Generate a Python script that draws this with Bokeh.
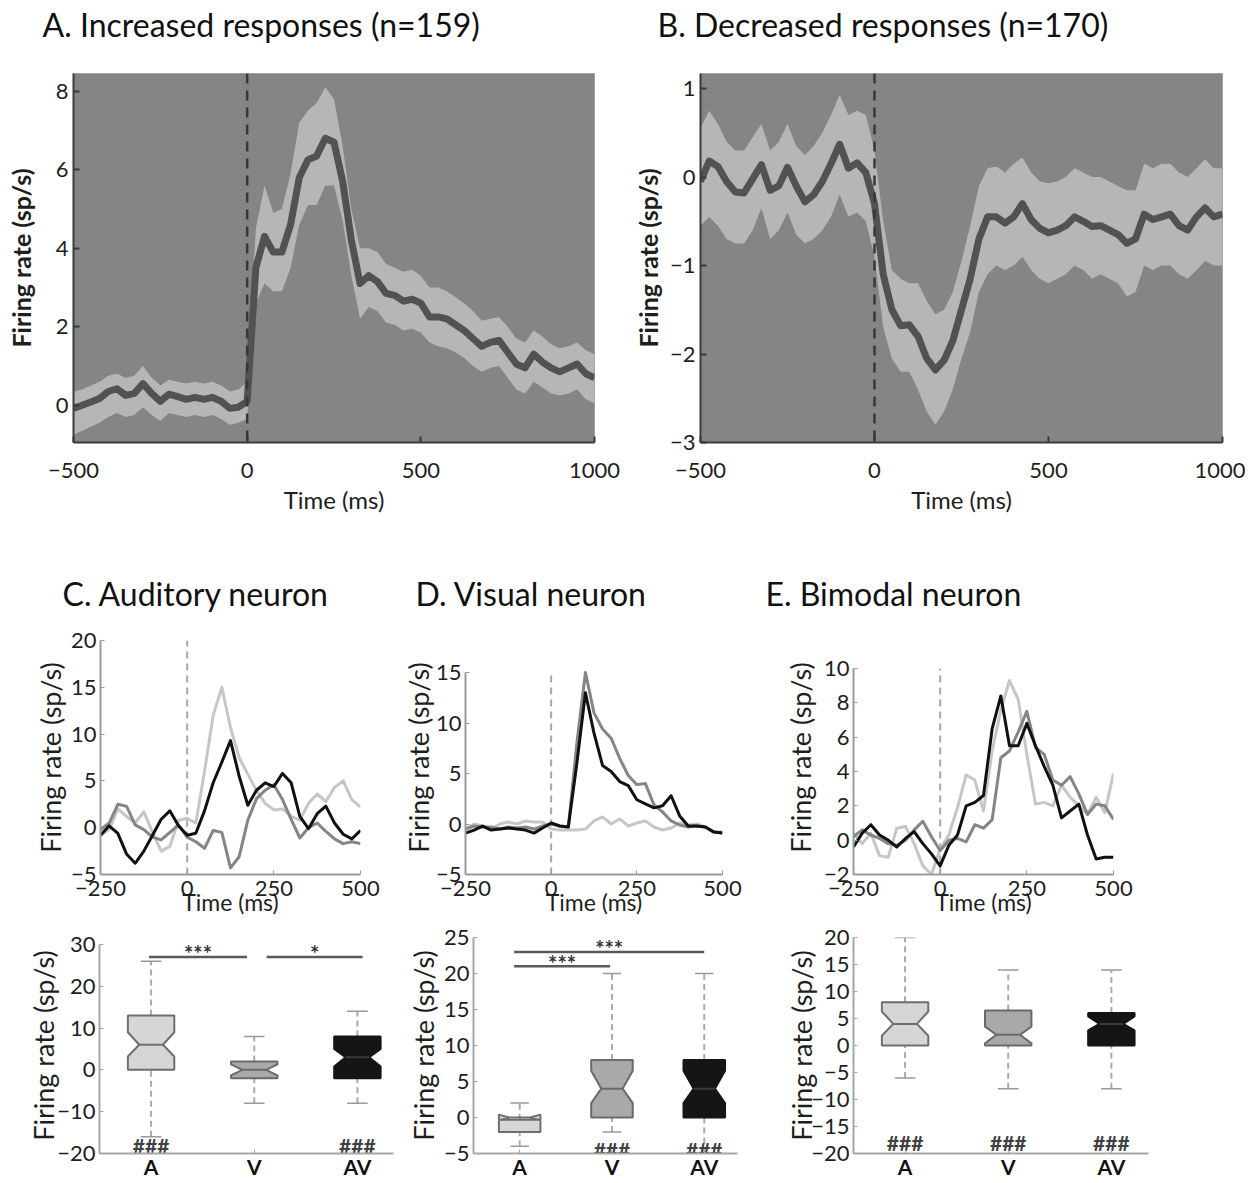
from bokeh.plotting import figure
from bokeh.models import Range1d, FixedTicker, Span, Title
from bokeh.layouts import column, row
from bokeh.embed import file_html
from bokeh.resources import INLINE
from bokeh.core.properties import value

FONT = "Lato"

# ---------------- Panel A / B : population responses ----------------
t_top = list(range(-500, 1001, 25))

a_mean = [-0.08, 0.0, 0.08, 0.17, 0.35, 0.42, 0.25, 0.3, 0.55, 0.3, 0.1, 0.28, 0.22, 0.15, 0.2, 0.15, 0.2, 0.1, -0.08, -0.05, 0.1,
          3.5, 4.3, 3.9, 3.9, 4.6, 5.8, 6.25, 6.35, 6.8, 6.7, 5.7, 4.2, 3.1, 3.3, 3.15, 2.85, 2.8, 2.65, 2.7, 2.6,
          2.25, 2.25, 2.2, 2.05, 1.9, 1.7, 1.5, 1.6, 1.65, 1.35, 1.05, 0.95, 1.3, 1.1, 0.95, 0.85, 0.95, 1.05, 0.8, 0.7]
a_upper = [0.35, 0.4, 0.5, 0.6, 0.75, 0.8, 0.7, 0.75, 1.0, 0.7, 0.5, 0.65, 0.6, 0.55, 0.6, 0.55, 0.6, 0.5, 0.35, 0.4, 0.6,
           4.5, 5.6, 4.9, 5.0, 5.9, 7.2, 7.5, 7.7, 8.1, 7.8, 6.6, 5.0, 4.0, 4.0, 3.9, 3.6, 3.5, 3.4, 3.45, 3.3,
           3.0, 3.0, 2.9, 2.75, 2.6, 2.4, 2.15, 2.2, 2.25, 2.0, 1.7, 1.6, 1.9, 1.75, 1.55, 1.45, 1.5, 1.6, 1.4, 1.3]
a_lower = [-0.75, -0.65, -0.55, -0.45, -0.3, -0.2, -0.3, -0.25, -0.05, -0.25, -0.4, -0.2, -0.25, -0.3, -0.25, -0.3, -0.25, -0.35, -0.5, -0.45, -0.35,
           2.6, 3.1, 2.9, 2.9, 3.5, 4.6, 5.1, 5.1, 5.6, 5.6, 4.7, 3.3, 2.2, 2.5, 2.4, 2.1, 2.05, 1.9, 1.95, 1.85,
           1.6, 1.5, 1.45, 1.35, 1.2, 1.0, 0.85, 0.95, 1.0, 0.7, 0.4, 0.3, 0.6, 0.45, 0.3, 0.25, 0.3, 0.4, 0.15, 0.05]

b_mean = [-0.05, 0.18, 0.12, -0.05, -0.17, -0.18, -0.02, 0.14, -0.15, -0.1, 0.11, -0.1, -0.28, -0.2, -0.05, 0.15, 0.37, 0.1, 0.16, 0.05, -0.3,
          -1.1, -1.5, -1.68, -1.67, -1.8, -2.05, -2.18, -2.07, -1.85, -1.5, -1.15, -0.7, -0.45, -0.45, -0.52, -0.45, -0.3, -0.48, -0.58, -0.63,
          -0.6, -0.55, -0.45, -0.5, -0.56, -0.55, -0.6, -0.65, -0.75, -0.7, -0.42, -0.48, -0.45, -0.42, -0.55, -0.6, -0.45, -0.35, -0.45, -0.42]
b_upper = [0.55, 0.75, 0.6, 0.4, 0.3, 0.3, 0.45, 0.6, 0.3, 0.4, 0.6, 0.35, 0.25, 0.35, 0.5, 0.7, 0.93, 0.7, 0.75, 0.7, 0.3,
           -0.5, -1.05, -1.15, -1.2, -1.2, -1.4, -1.55, -1.5, -1.3, -0.95, -0.55, -0.1, 0.1, 0.12, 0.05, 0.15, 0.22, 0.05, -0.05, -0.07,
           -0.05, 0.0, 0.1, 0.05, 0.0, 0.0, -0.05, -0.1, -0.15, -0.15, 0.15, 0.1, 0.15, 0.15, 0.05, 0.0, 0.1, 0.2, 0.1, 0.1]
b_lower = [-0.55, -0.45, -0.55, -0.7, -0.75, -0.75, -0.6, -0.35, -0.7, -0.6, -0.4, -0.65, -0.75, -0.7, -0.6, -0.45, -0.2, -0.45, -0.4, -0.5, -0.9,
           -1.7, -2.05, -2.2, -2.2, -2.4, -2.65, -2.8, -2.65, -2.4, -2.05, -1.75, -1.3, -1.1, -1.0, -1.05, -1.0, -0.9, -1.05, -1.15, -1.2,
           -1.15, -1.1, -1.0, -1.05, -1.15, -1.1, -1.15, -1.2, -1.35, -1.3, -1.0, -1.05, -1.0, -1.0, -1.1, -1.15, -1.05, -0.95, -1.0, -1.0]

# ---------------- Panels C / D / E : single neurons ----------------
t_bot = list(range(-250, 501, 25))

c_a = [-0.8, -0.2, 2.0, 1.2, 0.5, 1.7, -0.5, -2.5, -2.0, 0.8, 1.0, 0.5, 6.0, 12.0, 15.0, 10.7, 7.5, 5.7, 4.0, 2.6, 1.9, 2.0, 1.2, 0.8, 2.6, 3.6, 2.8, 4.3, 5.0, 3.0, 2.2]
c_v = [-0.2, 0.5, 2.5, 2.3, 0.3, -0.2, -1.0, -1.3, -0.5, 0.3, -1.0, -1.5, -2.2, -0.3, -0.5, -4.3, -3.1, 0.8, 3.1, 4.0, 4.6, 3.0, 0.9, -1.1, 0.0, 0.5, -0.4, -1.2, -1.7, -1.5, -1.7]
c_av = [-0.8, 0.2, -0.6, -2.8, -3.8, -2.5, -0.8, 0.9, 1.8, 0.2, -0.8, -0.6, 1.8, 4.8, 7.0, 9.3, 5.5, 2.4, 4.0, 4.8, 4.4, 5.8, 4.8, 1.2, -0.1, 1.5, 2.3, 0.5, -0.7, -1.2, -0.3]

d_a = [-0.5, 0.0, -0.2, -0.5, 0.0, 0.2, 0.0, 0.3, 0.2, 0.2, -0.5, -0.6, -0.6, -0.6, -0.5, 0.3, 0.7, 0.0, 0.5, -0.2, 0.1, 0.3, -0.3, -0.6, -0.4, 0.1, -0.1, 0.0, -0.3, -0.8, -0.8]
d_v = [-0.5, -0.2, -0.3, -0.3, -0.5, -0.3, -0.4, -0.3, -0.5, -0.2, 0.0, -0.2, -0.3, 8.0, 15.0, 11.0, 9.4, 8.5, 6.5, 4.8, 3.9, 4.0, 1.9, 1.2, 0.3, -0.1, -0.3, -0.2, -0.3, -0.8, -0.9]
d_av = [-0.9, -0.6, -0.2, -0.6, -0.5, -0.4, -0.5, -0.6, -0.9, -0.4, 0.1, -0.2, -0.3, 6.0, 13.0, 9.0, 5.8, 5.2, 4.2, 3.8, 2.4, 2.0, 1.6, 1.8, 2.8, 0.8, -0.2, -0.2, -0.3, -0.8, -0.9]

e_a = [0.4, -0.2, 0.4, -0.9, -1.0, 0.7, 0.8, -0.2, -1.5, -2.0, -0.5, 0.3, 1.9, 3.8, 3.5, 1.7, 5.2, 7.6, 9.3, 8.2, 5.0, 2.1, 2.2, 2.0, 3.2, 2.5, 2.0, 1.5, 2.5, 1.6, 3.9]
e_v = [0.2, 0.6, 0.3, 0.1, -0.2, -0.3, 0.0, 0.6, 1.1, 0.2, -0.6, 0.0, 0.1, -0.1, 0.9, 0.7, 1.2, 4.8, 5.2, 6.3, 7.5, 5.4, 5.0, 3.5, 3.2, 3.7, 2.7, 1.5, 2.1, 2.0, 1.2]
e_av = [-0.4, 0.4, 0.9, 0.3, 0.0, -0.4, 0.1, 0.5, -0.2, -0.8, -1.5, -0.3, 0.3, 2.0, 2.2, 2.6, 6.5, 8.4, 5.5, 5.5, 6.8, 5.5, 4.3, 3.2, 1.3, 1.7, 2.1, 0.3, -1.1, -1.0, -1.0]

# ---------------- box plots ----------------
box_cats = ["A", "V", "AV"]
box_pos = [1, 2, 3]

c_lo = [-16, -8, -8]
c_q1 = [0, -2, -2]
c_med = [6, 0, 3]
c_q3 = [13, 2, 8]
c_hi = [26, 8, 14]
c_nlo = [3.2, -1.3, 0.8]
c_nhi = [9.0, 1.3, 5.0]
c_sig_x0 = [0.98, 2.12]
c_sig_x1 = [1.93, 3.05]
c_sig_y = [27, 27]
c_sig_txt = ["***", "*"]
c_hash_x = [1, 3]
c_hash_y = [-18, -18]

d_lo = [-4, -2, -5]
d_q1 = [-2, 0, 0]
d_med = [0, 4, 4]
d_q3 = [-0.3, 8, 8]
d_hi = [2, 20, 20]
d_nlo = [-0.4, 2.0, 2.0]
d_nhi = [0.4, 6.5, 6.5]
d_sig_x0 = [0.94, 0.94]
d_sig_x1 = [1.98, 3.0]
d_sig_y = [21, 23]
d_sig_txt = ["***", "***"]
d_hash_x = [2, 3]
d_hash_y = [-4.4, -4.4]

e_lo = [-6, -8, -8]
e_q1 = [0, 0, 0]
e_med = [4, 2, 4]
e_q3 = [8, 6.5, 6]
e_hi = [20, 14, 14]
e_nlo = [1.8, 0.4, 2.8]
e_nhi = [6.3, 3.5, 5.4]
e_hash_x = [1, 2, 3]
e_hash_y = [-18, -18, -18]

hash_txt = "###"

BOX_FILL = ["#d6d6d6", "#a9a9a9", "#151515"]
BOX_LINE = ["#6e6e6e", "#6a6a6a", "#151515"]
MED_LINE = ["#6e6e6e", "#6a6a6a", "#3a3a3a"]
TRACE_COL = ["#c6c6c6", "#858585", "#111111"]


def base_fig(w, h, left, right, top, bottom, xr, yr, bg="white"):
    p = figure(width=w, height=h, x_range=Range1d(*xr), y_range=Range1d(*yr),
               output_backend="svg", toolbar_location=None, title=None,
               min_border_left=left, min_border_right=right,
               min_border_top=top, min_border_bottom=bottom)
    p.grid.visible = False
    p.background_fill_color = bg
    p.border_fill_color = "white"
    p.outline_line_color = None
    for ax in (p.xaxis[0], p.yaxis[0]):
        ax.major_label_text_font = FONT
        ax.axis_label_text_font = FONT
        ax.major_label_text_color = "#1e1e1e"
        ax.axis_label_text_color = "#1e1e1e"
        ax.axis_label_text_font_style = "normal"
        ax.minor_tick_line_color = None
        ax.major_tick_out = 0
    return p


def add_title(p, text, offset, gap):
    # invisible spacer title next to the frame, then the real title above it
    p.add_layout(Title(text=" ", text_font_size="1px", standoff=gap - 3), "above")
    p.add_layout(Title(text=text, align="left", offset=offset, text_font=FONT,
                       text_font_size="32px", text_font_style="normal",
                       text_color="#111111", standoff=0), "above")


def top_panel(w, left, right, yr, yticks, mean, lower, upper, title, tx, ylab_standoff):
    p = base_fig(w, 528, left, right, 73, 86, (-500, 1000), yr, bg="#858585")
    p.outline_line_color = "#a2a2a2"
    p.varea(x=t_top, y1=lower, y2=upper, fill_color="#b6b6b6")
    p.line(t_top, mean, line_width=7, line_color="#525252", line_join="round")
    p.add_layout(Span(location=0, dimension="height", line_color="#383838",
                      line_dash="10 7", line_width=2.5))
    p.xaxis.ticker = FixedTicker(ticks=[-500, 0, 500, 1000])
    p.yaxis.ticker = FixedTicker(ticks=yticks)
    for ax in (p.xaxis[0], p.yaxis[0]):
        ax.axis_line_color = "#3a3a3a"
        ax.axis_line_width = 2
        ax.major_tick_line_color = "#3a3a3a"
        ax.major_tick_line_width = 2
        ax.major_tick_in = 6
        ax.major_label_text_font_size = "22px"
    p.xaxis.axis_label = "Time (ms)"
    p.xaxis.axis_label_text_font_size = "24px"
    p.xaxis.major_label_standoff = 20
    p.xaxis.axis_label_standoff = 4
    p.yaxis.axis_label = "Firing rate (sp/s)"
    p.yaxis.axis_label_text_font_size = "25px"
    p.yaxis.axis_label_text_font_style = "bold"
    p.yaxis.major_label_standoff = 5
    p.yaxis.axis_label_standoff = ylab_standoff
    add_title(p, title, tx, 30)
    return p


def line_panel(w, left, right, yr, ybounds, yticks, traces, title, tx, ylab_standoff):
    p = base_fig(w, 396, left, right, 112, 50, (-250, 500), yr)
    p.segment(x0=[0], y0=[ybounds[0]], x1=[0], y1=[ybounds[1]], line_color="#a8a8a8",
              line_dash="7 5", line_width=2)
    for ys, col in zip(traces, TRACE_COL):
        p.line(t_bot, ys, line_width=3, line_color=col, line_join="round")
    p.xaxis.ticker = FixedTicker(ticks=[-250, 0, 250, 500])
    p.yaxis.ticker = FixedTicker(ticks=yticks)
    p.yaxis.bounds = ybounds
    for ax in (p.xaxis[0], p.yaxis[0]):
        ax.axis_line_color = "#9a9a9a"
        ax.axis_line_width = 2
        ax.major_tick_line_color = "#9a9a9a"
        ax.major_tick_in = 4
        ax.major_label_text_font_size = "22px"
    p.xaxis.axis_label = "Time (ms)"
    p.xaxis.axis_label_text_font_size = "23px"
    p.xaxis.major_label_standoff = 6
    p.xaxis.axis_label_standoff = -11
    p.yaxis.axis_label = "Firing rate (sp/s)"
    p.yaxis.axis_label_text_font_size = "27px"
    p.yaxis.major_label_standoff = 4
    p.yaxis.axis_label_standoff = ylab_standoff
    add_title(p, title, tx, 28)
    return p


def box_panel(w, left, right, xmax, yr, ybounds, yticks, lo, q1, med, q3, hi, nlo, nhi,
              hash_x, hash_y, ylab_standoff, sig=None):
    p = base_fig(w, 257, left, right, 13, 28, (0.5, xmax), yr)
    half, ind, cap = 0.225, 0.11, 0.1
    p.segment(x0=box_pos, y0=q3, x1=box_pos, y1=hi, line_color="#ababab",
              line_width=2, line_dash="6 4")
    p.segment(x0=box_pos, y0=lo, x1=box_pos, y1=q1, line_color="#ababab",
              line_width=2, line_dash="6 4")
    p.segment(x0=[x - cap for x in box_pos], y0=hi, x1=[x + cap for x in box_pos], y1=hi,
              line_color="#9a9a9a", line_width=1.5)
    p.segment(x0=[x - cap for x in box_pos], y0=lo, x1=[x + cap for x in box_pos], y1=lo,
              line_color="#9a9a9a", line_width=1.5)
    xs, ys = [], []
    for i, x in enumerate(box_pos):
        L, R = x - half, x + half
        xs.append([L, L, L + ind, L, L, R, R, R - ind, R, R])
        ys.append([q1[i], nlo[i], med[i], nhi[i], q3[i], q3[i], nhi[i], med[i], nlo[i], q1[i]])
    p.patches(xs, ys, fill_color=BOX_FILL, line_color=BOX_LINE, line_width=2)
    p.segment(x0=[x - half + ind for x in box_pos], y0=med,
              x1=[x + half - ind for x in box_pos], y1=med,
              line_color=MED_LINE, line_width=2)
    if sig is not None:
        sx0, sx1, sy, stxt = sig
        p.segment(x0=sx0, y0=sy, x1=sx1, y1=sy, line_color="#5a5a5a", line_width=2.5)
        p.text(x=[(a + b) / 2 for a, b in zip(sx0, sx1)], y=sy, text=stxt,
               text_font=value(FONT), text_font_size="22px", text_font_style="bold",
               text_color="#333333", text_align="center", text_baseline="middle",
               y_offset=-3)
    p.text(x=hash_x, y=hash_y, text=[hash_txt] * len(hash_x), text_font=value(FONT),
           text_font_size="21px", text_font_style="bold", text_color="#404040",
           text_align="center", text_baseline="middle")
    p.xaxis.ticker = FixedTicker(ticks=box_pos)
    p.xaxis.major_label_overrides = {b: c for b, c in zip(box_pos, box_cats)}
    p.yaxis.ticker = FixedTicker(ticks=yticks)
    p.yaxis.bounds = ybounds
    for ax in (p.xaxis[0], p.yaxis[0]):
        ax.axis_line_color = "#a6a6a6"
        ax.axis_line_width = 2
        ax.major_tick_line_color = "#a6a6a6"
        ax.major_tick_in = 4
        ax.major_label_text_font_size = "22px"
    p.xaxis.major_label_text_font_size = "21px"
    p.xaxis.major_label_text_font_style = "bold"
    p.xaxis.major_label_text_color = "#111111"
    p.xaxis.major_label_standoff = 0
    p.yaxis.axis_label = "Firing rate (sp/s)"
    p.yaxis.axis_label_text_font_size = "27px"
    p.yaxis.major_label_standoff = 4
    p.yaxis.axis_label_standoff = ylab_standoff
    return p


figA = top_panel(628, 73, 34, (-0.95, 8.45), [0, 2, 4, 6, 8], a_mean, a_lower, a_upper,
                 "A. Increased responses (n=159)", -31, 17)
figB = top_panel(617, 72, 23, (-3.0, 1.17), [-3, -2, -1, 0, 1], b_mean, b_lower, b_upper,
                 "B. Decreased responses (n=170)", -43, 4)

lineC = line_panel(395, 100, 35, (-5, 20), (-5, 20), [-5, 0, 5, 10, 15, 20], [c_a, c_v, c_av],
                   "C. Auditory neuron", -38, 1)
lineD = line_panel(365, 70, 38, (-5, 18.17), (-5, 15), [-5, 0, 5, 10, 15], [d_a, d_v, d_av],
                   "D. Visual neuron", -50, -2)
lineE = line_panel(484, 93, 131, (-2, 11.63), (-2, 10), [-2, 0, 2, 4, 6, 8, 10], [e_a, e_v, e_av],
                   "E. Bimodal neuron", -88, 4)

boxC = box_panel(403, 99, 10, 3.35, (-20, 31.65), (-20, 30), [-20, -10, 0, 10, 20, 30],
                 c_lo, c_q1, c_med, c_q3, c_hi, c_nlo, c_nhi, c_hash_x, c_hash_y, -6,
                 sig=(c_sig_x0, c_sig_x1, c_sig_y, c_sig_txt))
boxD = box_panel(377, 63, 43, 3.36, (-5, 25), (-5, 25), [-5, 0, 5, 10, 15, 20, 25],
                 d_lo, d_q1, d_med, d_q3, d_hi, d_nlo, d_nhi, d_hash_x, d_hash_y, 1,
                 sig=(d_sig_x0, d_sig_x1, d_sig_y, d_sig_txt))
boxE = box_panel(464, 73, 96, 3.36, (-20, 20), (-20, 20), [-20, -15, -10, -5, 0, 5, 10, 15, 20],
                 e_lo, e_q1, e_med, e_q3, e_hi, e_nlo, e_nhi, e_hash_x, e_hash_y, -10)

layout = column(row(figA, figB), row(lineC, lineD, lineE), row(boxC, boxD, boxE))

open("out.html", "w").write(file_html(layout, INLINE, title="Firing rate responses"))
